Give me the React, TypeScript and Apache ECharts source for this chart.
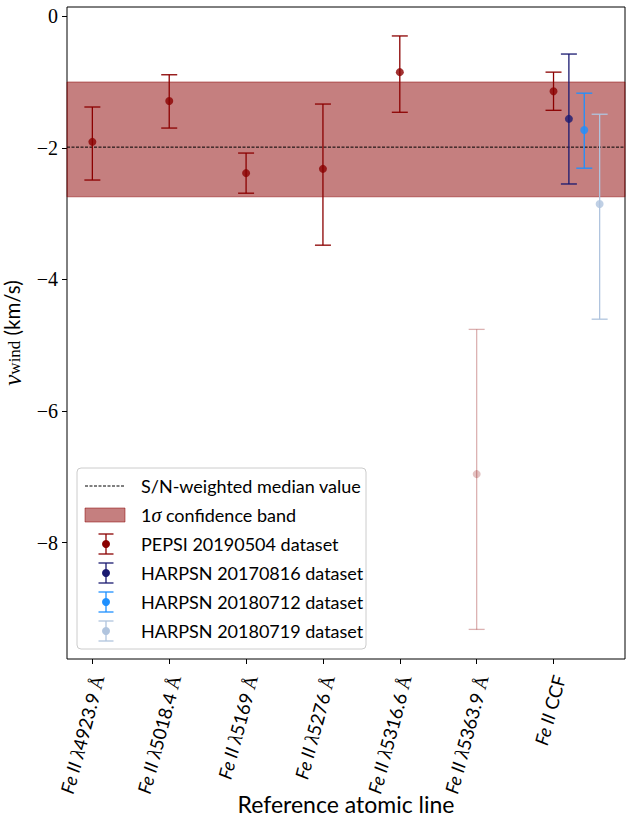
import React, { useEffect, useRef } from 'react';
import * as echarts from 'echarts';

const categories = [
  'Fe II λ4923.9 Å',
  'Fe II λ5018.4 Å',
  'Fe II λ5169 Å',
  'Fe II λ5276 Å',
  'Fe II λ5316.6 Å',
  'Fe II λ5363.9 Å',
  'Fe II CCF',
];
const categoryPositions = [0, 1, 2, 3, 4, 5, 6];
const yTickValues = [-8, -6, -4, -2, 0];

const pepsiName = 'PEPSI 20190504 dataset';
const pepsiX = [0, 1, 2, 3, 4, 5, 6];
const pepsiY = [-1.91, -1.29, -2.385, -2.32, -0.85, -6.96, -1.14];
const pepsiLow = [-2.49, -1.70, -2.69, -3.48, -1.46, -9.32, -1.43];
const pepsiHigh = [-1.38, -0.89, -2.08, -1.335, -0.30, -4.76, -0.85];
const pepsiOpacity = [1, 1, 1, 1, 1, 0.3, 1];

const harpsnNames = ['HARPSN 20170816 dataset', 'HARPSN 20180712 dataset', 'HARPSN 20180719 dataset'];
const harpsnX = [6.2, 6.4, 6.6];
const harpsnY = [-1.56, -1.73, -2.855];
const harpsnLow = [-2.55, -2.31, -4.605];
const harpsnHigh = [-0.575, -1.17, -1.49];

const medianValue = -1.99;
const bandLow = -2.745;
const bandHigh = -1.0;

const X_MIN = -0.33;
const X_MAX = 6.93;
const Y_MIN = -9.77;
const Y_MAX = 0.14;

const PEPSI_COLOR = '#8b0000';
const HARPSN_COLORS = ['#191970', '#1e90ff', '#b0c4de'];
const BAND_COLOR = 'rgba(139,0,0,0.5)';
const SANS = 'Lato, "Open Sans", sans-serif';
const SERIF = '"Liberation Serif", "DejaVu Serif", serif';

function errorSeries(name: string, color: string, xs: number[], lows: number[], highs: number[], ops: number[]) {
  return {
    type: 'custom',
    name,
    z: 5,
    encode: { x: 0, y: [1, 2] },
    data: xs.map((x, i) => [x, lows[i], highs[i], ops[i]]),
    renderItem: (params: any, api: any) => {
      const x = api.value(0);
      const top = api.coord([x, api.value(2)]);
      const bot = api.coord([x, api.value(1)]);
      const hw = 8;
      const stroke = echarts.color.modifyAlpha(color, api.value(3));
      const style = { stroke, lineWidth: 1.3 };
      return {
        type: 'group',
        children: [
          { type: 'line', shape: { x1: top[0], y1: top[1], x2: bot[0], y2: bot[1] }, style },
          { type: 'line', shape: { x1: top[0] - hw, y1: top[1], x2: top[0] + hw, y2: top[1] }, style },
          { type: 'line', shape: { x1: bot[0] - hw, y1: bot[1], x2: bot[0] + hw, y2: bot[1] }, style },
        ],
      };
    },
  };
}

function pointSeries(name: string, color: string, xs: number[], ys: number[], ops: number[]) {
  return {
    type: 'scatter',
    name,
    z: 6,
    symbol: 'circle',
    symbolSize: 8,
    data: xs.map((x, i) => ({
      value: [x, ys[i]],
      itemStyle: { color: echarts.color.modifyAlpha(color, ops[i]) },
    })),
  };
}

function formatCategory(v: number) {
  const i = categoryPositions.indexOf(v);
  if (i < 0) return '';
  const label = categories[i];
  const rest = label.replace(/^Fe II /, '');
  const m = rest.match(/^λ([\d.]+) Å$/);
  if (m) return `{it|Fe II}{sp| }{lam|λ}{n|${m[1]}}{sp| }{a|Å}`;
  return `{it|Fe II}{sp| }{n|${rest}}`;
}

export default function App() {
  const ref = useRef<HTMLDivElement>(null);
  useEffect(() => {
    if (!ref.current) return;
    const chart = echarts.init(ref.current, undefined, { renderer: 'svg' });

    const legendRows = [486, 515, 544, 573, 602, 631];
    const legendTextX = 141;
    const handleX = 106;
    const legendFont = { fontFamily: SANS, fontSize: 18, fill: '#000' };
    const errHandle = (y: number, color: string) => [
      { type: 'line', shape: { x1: handleX, y1: y - 10, x2: handleX, y2: y + 10 }, style: { stroke: color, lineWidth: 1.3 }, z: 101 },
      { type: 'line', shape: { x1: handleX - 7.5, y1: y - 10, x2: handleX + 7.5, y2: y - 10 }, style: { stroke: color, lineWidth: 1.3 }, z: 101 },
      { type: 'line', shape: { x1: handleX - 7.5, y1: y + 10, x2: handleX + 7.5, y2: y + 10 }, style: { stroke: color, lineWidth: 1.3 }, z: 101 },
      { type: 'circle', shape: { cx: handleX, cy: y, r: 4 }, style: { fill: color }, z: 102 },
    ];
    const seriesEntries = [
      { name: pepsiName, color: PEPSI_COLOR },
      ...harpsnNames.map((n, i) => ({ name: n, color: HARPSN_COLORS[i] })),
    ];

    const graphic: any[] = [
      { type: 'rect', shape: { x: 77, y: 468, width: 289, height: 181, r: 4 }, style: { fill: 'rgba(255,255,255,0.8)', stroke: '#cccccc', lineWidth: 1 }, z: 100 },
      { type: 'line', shape: { x1: 85, y1: legendRows[0], x2: 125, y2: legendRows[0] }, style: { stroke: '#000', lineWidth: 1, lineDash: [3, 1.5] }, z: 101 },
      { type: 'text', x: legendTextX, y: legendRows[0], style: { ...legendFont, text: 'S/N-weighted median value', verticalAlign: 'middle' }, z: 101 },
      { type: 'rect', shape: { x: 85, y: legendRows[1] - 7, width: 40, height: 14 }, style: { fill: BAND_COLOR, stroke: BAND_COLOR, lineWidth: 1 }, z: 101 },
      {
        type: 'text', x: legendTextX, y: legendRows[1], z: 101,
        style: {
          ...legendFont,
          text: '{n|1}{g|σ}{n| confidence band}',
          verticalAlign: 'middle',
          rich: {
            n: { fontFamily: SANS, fontSize: 18 },
            g: { fontFamily: SERIF, fontSize: 20, fontStyle: 'italic' },
          },
        },
      },
    ];
    seriesEntries.forEach((e, i) => {
      const y = legendRows[2 + i];
      graphic.push(...errHandle(y, e.color));
      graphic.push({ type: 'text', x: legendTextX, y, style: { ...legendFont, text: e.name, verticalAlign: 'middle' }, z: 101 });
    });

    const series: any[] = [
      {
        type: 'custom',
        name: 'band',
        z: 1,
        silent: true,
        encode: { x: 0, y: [1, 2] },
        data: [[X_MIN, bandLow, bandHigh]],
        renderItem: (params: any, api: any) => {
          const cs = params.coordSys;
          const t = api.coord([api.value(0), api.value(2)]);
          const b = api.coord([api.value(0), api.value(1)]);
          return {
            type: 'rect',
            shape: { x: cs.x, y: t[1], width: cs.width, height: b[1] - t[1] },
            style: { fill: BAND_COLOR, stroke: BAND_COLOR, lineWidth: 1 },
          };
        },
      },
      {
        type: 'custom',
        name: 'median',
        z: 2,
        silent: true,
        encode: { x: 0, y: 1 },
        data: [[X_MIN, medianValue]],
        renderItem: (params: any, api: any) => {
          const cs = params.coordSys;
          const p = api.coord([api.value(0), api.value(1)]);
          return {
            type: 'line',
            shape: { x1: cs.x, y1: p[1], x2: cs.x + cs.width, y2: p[1] },
            style: { stroke: '#000', lineWidth: 1, lineDash: [3, 1.5] },
          };
        },
      },
      errorSeries(pepsiName, PEPSI_COLOR, pepsiX, pepsiLow, pepsiHigh, pepsiOpacity),
      pointSeries(pepsiName, PEPSI_COLOR, pepsiX, pepsiY, pepsiOpacity),
    ];
    harpsnNames.forEach((n, i) => {
      series.push(errorSeries(n, HARPSN_COLORS[i], [harpsnX[i]], [harpsnLow[i]], [harpsnHigh[i]], [1]));
      series.push(pointSeries(n, HARPSN_COLORS[i], [harpsnX[i]], [harpsnY[i]], [1]));
    });

    chart.setOption({
      animation: false,
      backgroundColor: '#ffffff',
      grid: {
        left: 67, right: 6, top: 7, bottom: 165,
        containLabel: false,
        outerBoundsMode: 'none',
        show: true, borderColor: '#000', borderWidth: 1, backgroundColor: 'transparent',
      },
      xAxis: {
        type: 'value',
        min: X_MIN,
        max: X_MAX,
        splitLine: { show: false },
        axisLine: { show: false, onZero: false },
        axisTick: { show: true, length: 5, lineStyle: { color: '#000' }, customValues: categoryPositions },
        axisLabel: {
          customValues: categoryPositions,
          rotate: 75,
          margin: 15,
          verticalAlign: 'top',
          lineHeight: 12,
          formatter: (v: number) => formatCategory(v),
          color: '#000',
          rich: {
            it: { fontFamily: SANS, fontSize: 18.5, fontStyle: 'italic', color: '#000', lineHeight: 12 },
            sp: { fontFamily: SANS, fontSize: 18.5, color: '#000', lineHeight: 12 },
            lam: { fontFamily: SERIF, fontSize: 20, fontStyle: 'italic', color: '#000', lineHeight: 12 },
            n: { fontFamily: SANS, fontSize: 18.5, color: '#000', lineHeight: 12 },
            a: { fontFamily: SERIF, fontSize: 19, color: '#000', lineHeight: 12 },
          },
        },
        name: 'Reference atomic line',
        nameLocation: 'middle',
        nameGap: 133,
        nameMoveOverlap: false,
        nameTextStyle: { fontFamily: SANS, fontSize: 23, color: '#000' },
      },
      yAxis: {
        type: 'value',
        min: Y_MIN,
        max: Y_MAX,
        splitLine: { show: false },
        axisLine: { show: false, onZero: false },
        axisTick: { show: true, length: 5, lineStyle: { color: '#000' }, customValues: yTickValues },
        axisLabel: {
          customValues: yTickValues,
          margin: 9,
          fontFamily: SERIF,
          fontSize: 20,
          color: '#000',
          formatter: (v: number) => (v < 0 ? '\u2212' + Math.abs(v) : String(v)),
        },
        name: '{v|v}{s|wind}{u| (km/s)}',
        nameLocation: 'middle',
        nameGap: 44,
        nameRotate: 90,
        nameMoveOverlap: false,
        nameTextStyle: {
          color: '#000',
          lineHeight: 22,
          rich: {
            v: { fontFamily: SERIF, fontStyle: 'italic', fontSize: 25, color: '#000', lineHeight: 22 },
            s: { fontFamily: SERIF, fontSize: 17, color: '#000', lineHeight: 14, verticalAlign: 'bottom' },
            u: { fontFamily: SANS, fontSize: 20.5, color: '#000', lineHeight: 22 },
          },
        },
      },
      series,
      graphic,
    });
    return () => chart.dispose();
  }, []);
  return <div ref={ref} style={{ position: 'fixed', left: 0, top: 0, width: 631, height: 824 }} />;
}
